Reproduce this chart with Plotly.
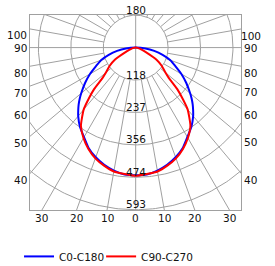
import numpy as np
import plotly.graph_objects as go

# ---- data (luminous intensity, cd) ----
gamma = [0, 5, 10, 15, 20, 25, 30, 35, 40, 42.5, 45, 47.5, 50, 55, 60, 65, 70, 75, 80, 85, 90]
c0_c180 = [467, 466, 457, 444, 427, 406, 378, 355, 327, 311, 295, 278, 260, 226, 193, 160, 135, 102, 69, 36, 0]
c90_c270 = [469, 464, 460, 447, 431, 409, 382, 349, 296, 255, 215, 164, 142, 116, 87, 44, 25, 15, 7, 4, 0]
ring_values = [118.6, 237.2, 355.8, 474.4, 593.0]
ring_labels = ["118", "237", "356", "474", "593"]
side_angles = [100, 90, 80, 70, 60, 50, 40]
bottom_angles = [-30, -20, -10, 0, 10, 20, 30]
top_label = "180"

GRID = "#a0a0a0"
FONT = dict(family="DejaVu Sans", size=10.5, color="#111111")

XR = [-386.5, 385.2]
YR = [-594.0, 119.2]


def curve_xy(values):
    g = np.radians(np.array(gamma, dtype=float))
    r = np.array(values, dtype=float)
    xl = -r[::-1] * np.sin(g[::-1])
    yl = -r[::-1] * np.cos(g[::-1])
    xr = r * np.sin(g)
    yr = -r * np.cos(g)
    return np.concatenate([xl, xr[1:]]), np.concatenate([yl, yr[1:]])


# grid: circles, rays, cross
gx, gy = [], []
t = np.linspace(0, 2 * np.pi, 361)
for rv in ring_values:
    gx += list(rv * np.cos(t)) + [None]
    gy += list(rv * np.sin(t)) + [None]
for a in range(0, 360, 10):
    if a % 90 == 0:
        continue
    ar = np.radians(a)
    gx += [ring_values[0] * np.sin(ar), 2000 * np.sin(ar), None]
    gy += [-ring_values[0] * np.cos(ar), -2000 * np.cos(ar), None]
gx += [-2000, 2000, None, 0, 0, None]
gy += [0, 0, None, -2000, 2000, None]

fig = go.Figure()
fig.add_trace(go.Scatter(x=gx, y=gy, mode="lines", line=dict(color=GRID, width=1),
                         hoverinfo="skip", showlegend=False))

bx, by = curve_xy(c0_c180)
rx, ry = curve_xy(c90_c270)
fig.add_trace(go.Scatter(x=bx, y=by, mode="lines", name="C0-C180", legend="legend",
                         line=dict(color="#0000ff", width=2, shape="spline", smoothing=0.5)))
fig.add_trace(go.Scatter(x=rx, y=ry, mode="lines", name="C90-C270", legend="legend2",
                         line=dict(color="#ff0000", width=2, shape="spline", smoothing=0.5)))

ann = []
for a in side_angles:
    cot = np.cos(np.radians(a)) / np.sin(np.radians(a))
    shift = 0 if a == 90 else -6.5
    ann.append(dict(x=0, xref="paper", y=XR[0] * cot, yref="y", text=str(a),
                    xanchor="right", yanchor="middle", xshift=-1, yshift=shift,
                    showarrow=False, font=FONT))
    ann.append(dict(x=1, xref="paper", y=-XR[1] * cot, yref="y", text=str(a),
                    xanchor="center", yanchor="middle", xshift=9.7, yshift=shift,
                    showarrow=False, font=FONT))
for a in bottom_angles:
    ann.append(dict(x=-YR[0] * np.tan(np.radians(a)), xref="x", y=0, yref="paper",
                    text=str(abs(a)), xanchor="center", yanchor="middle", yshift=-7.5,
                    showarrow=False, font=FONT))
ann.append(dict(x=0, xref="x", y=1, yref="paper", text=top_label, xanchor="center",
                yanchor="middle", yshift=5, showarrow=False, font=FONT))
for rv, lab in zip(ring_values, ring_labels):
    ann.append(dict(x=0, xref="x", y=-rv, yref="y", text=lab, xanchor="center",
                    yanchor="middle", yshift=5.5, xshift=0.5, showarrow=False, font=FONT))

axis = dict(showgrid=False, zeroline=False, showticklabels=False, ticks="",
            showline=True, mirror=True, linecolor=GRID, linewidth=1)
leg = dict(orientation="h", xanchor="left", y=-0.238, yanchor="middle",
           font=FONT, bgcolor="rgba(0,0,0,0)")
fig.update_layout(
    width=275, height=266,
    margin=dict(l=30, r=34, t=15, b=56, autoexpand=False),
    paper_bgcolor="white", plot_bgcolor="white",
    xaxis=dict(range=XR, **axis),
    yaxis=dict(range=YR, **axis),
    annotations=ann,
    showlegend=True,
    legend=dict(x=-0.052, **leg),
    legend2=dict(x=0.337, **leg),
)
fig.write_html("out.html")
